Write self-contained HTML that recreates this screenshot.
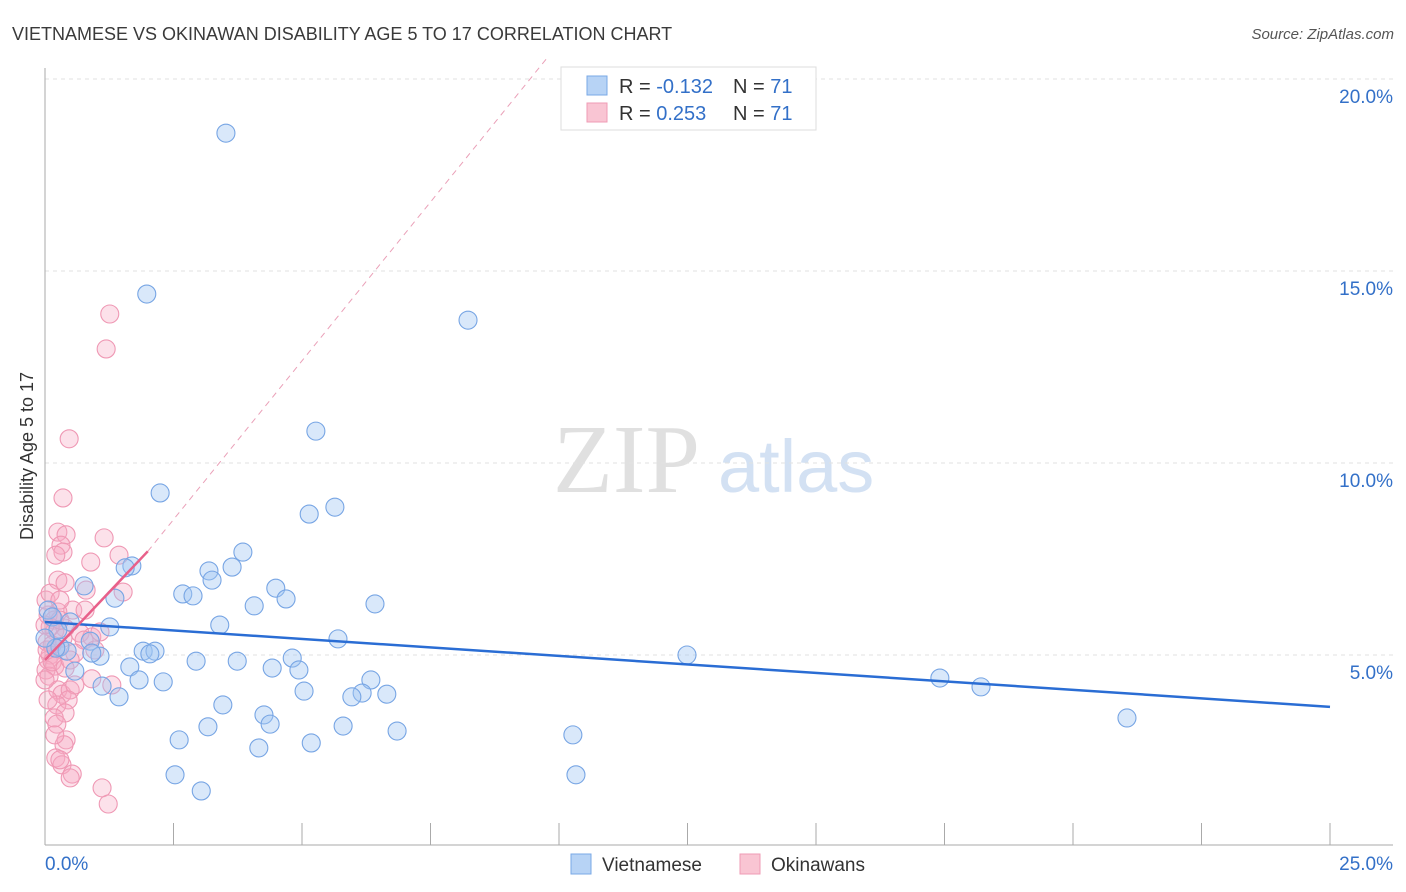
<!DOCTYPE html>
<html><head><meta charset="utf-8"><style>
body{margin:0;background:#fff;font-family:"Liberation Sans",sans-serif}
svg{display:block}
</style></head><body>
<svg id="chart" width="1406" height="892">
<text x="12" y="40" font-size="18" fill="#3a3a3a">VIETNAMESE VS OKINAWAN DISABILITY AGE 5 TO 17 CORRELATION CHART</text>
<text x="1394" y="39" font-size="15" fill="#555" font-style="italic" text-anchor="end">Source: ZipAtlas.com</text>
<text x="33" y="456" font-size="18" fill="#333" text-anchor="middle" transform="rotate(-90 33 456)">Disability Age 5 to 17</text>
<g>
<text x="553" y="492" font-family="Liberation Serif,serif" font-size="98" fill="#e0e0e0">ZIP</text>
<text x="718" y="492" font-size="74" fill="#d3e1f3">atlas</text>
</g>
<g id="grid"></g><g id="axes"></g><g id="trend"></g><g id="pts"></g>
<g>
<rect x="561" y="67" width="255" height="63" fill="#fff" stroke="#ddd"/>
<rect x="587" y="76" width="20" height="19" fill="#b7d3f5" stroke="#7aa8e6"/>
<rect x="587" y="103" width="20" height="19" fill="#f9c5d3" stroke="#ef9bb4"/>
<text x="619" y="93" font-size="20" fill="#333">R = <tspan fill="#3370c8">-0.132</tspan><tspan x="733">N = </tspan><tspan fill="#3370c8">71</tspan></text>
<text x="619" y="120" font-size="20" fill="#333">R = <tspan fill="#3370c8"> 0.253</tspan><tspan x="733">N = </tspan><tspan fill="#3370c8">71</tspan></text>
</g>
<g>
<rect x="571" y="854" width="20" height="20" fill="#b7d3f5" stroke="#7aa8e6"/>
<text x="602" y="871" font-size="19" fill="#333">Vietnamese</text>
<rect x="740" y="854" width="20" height="20" fill="#f9c5d3" stroke="#ef9bb4"/>
<text x="771" y="871" font-size="19" fill="#333">Okinawans</text>
</g>
</svg>
<script>
const yTicks=[5,10,15,20];
const yTickLabels=["5.0%","10.0%","15.0%","20.0%"];
const xTicks=[0,2.5,5,7.5,10,12.5,15,17.5,20,22.5,25];
const blueX=[3.52,1.98,8.23,5.27,2.24,5.14,5.64,3.85,1.69,1.56,3.19,3.64,3.25,0.76,4.49,2.68,2.88,4.69,1.36,4.07,6.42,3.40,1.26,0.49,5.70,0.88,0.29,0.43,0.21,1.91,2.14,2.04,1.07,0.91,2.94,3.74,4.81,1.65,4.42,4.94,0.58,1.83,2.30,6.34,1.11,1.44,5.04,6.17,6.65,5.97,3.46,4.26,4.38,3.17,5.80,6.85,2.61,5.18,4.16,10.27,2.53,10.33,3.04,12.49,17.41,18.21,21.05,0.06,0.14,0.25,0.0];
const blueY=[18.59,14.40,13.72,10.83,9.22,8.67,8.85,7.68,7.32,7.27,7.19,7.29,6.95,6.80,6.74,6.59,6.54,6.46,6.48,6.28,6.33,5.78,5.73,5.86,5.42,5.36,5.21,5.10,5.18,5.10,5.10,5.03,4.97,5.05,4.84,4.84,4.92,4.69,4.66,4.61,4.58,4.35,4.30,4.35,4.19,3.91,4.06,4.01,3.98,3.91,3.70,3.44,3.20,3.13,3.15,3.02,2.79,2.71,2.58,2.92,1.88,1.88,1.46,5.00,4.40,4.17,3.36,6.17,5.99,5.65,5.44];
const pinkX=[0.35,0.25,0.41,0.31,0.35,0.21,1.15,1.44,0.89,0.25,0.39,0.80,1.52,0.54,0.25,0.06,0.18,0.39,0.19,0.10,0.68,0.91,0.35,0.04,0.14,0.21,0.10,0.06,0.19,0.02,0.08,0.25,0.33,0.49,0.58,0.91,0.45,0.23,0.39,0.18,0.23,0.41,0.37,0.21,0.33,0.53,0.49,1.11,1.23,1.26,1.19,0.47,0.02,0.10,0.29,0.0,0.04,0.14,0.29,0.76,0.97,1.30,0.0,0.06,0.39,0.58,0.19,0.29,0.78,1.07,0.49];
const pinkY=[9.09,8.20,8.13,7.86,7.68,7.60,8.05,7.60,7.42,6.95,6.88,6.69,6.64,6.17,6.12,6.04,5.91,5.70,5.63,5.73,5.57,5.47,5.44,5.34,5.26,5.18,5.00,4.87,4.71,4.61,4.45,4.09,3.98,4.09,4.22,4.38,3.83,3.70,3.49,3.36,3.20,2.79,2.66,2.32,2.14,1.90,1.80,1.54,1.12,13.88,12.97,10.63,6.43,6.61,5.91,5.78,5.13,4.82,6.43,5.39,5.13,4.22,4.35,3.83,4.66,5.05,2.92,2.27,6.17,5.60,4.87];
const blueTrend=[5.86,3.65];
const pinkTrend=[4.87,7.7];
const pinkTrendEndX=2.0;
const pinkDashEnd=[9.8,20.6];

const NS="http://www.w3.org/2000/svg";
const X=v=>45+v/25*1285;
const Y=v=>847-v*38.4;
function mk(tag,attrs,parent){const e=document.createElementNS(NS,tag);for(const k in attrs)e.setAttribute(k,attrs[k]);document.getElementById(parent).appendChild(e);return e;}
yTicks.forEach((t,i)=>{
  const g=mk('line',{x1:45,x2:1393,y1:Y(t),y2:Y(t),stroke:'#e2e2e2','stroke-dasharray':'4,4'},'grid');
  
  
  const l=mk('text',{x:1393,y:Y(t)+24,'font-size':19,fill:'#3370c8','text-anchor':'end'},'axes');
  l.textContent=yTickLabels[i];
  
  
});
const ax=mk('line',{x1:45,x2:45,y1:68,y2:845,stroke:'#aaa'},'axes');


const bx=mk('line',{x1:45,x2:1393,y1:845,y2:845,stroke:'#aaa'},'axes');


xTicks.forEach(t=>{
  const tk=mk('line',{x1:X(t),x2:X(t),y1:823,y2:845,stroke:'#aaa'},'axes');
  
  
});
const xl0=mk('text',{x:45,y:870,'font-size':19,fill:'#3370c8'},'axes');xl0.textContent='0.0%';


const xl1=mk('text',{x:1393,y:870,'font-size':19,fill:'#3370c8','text-anchor':'end'},'axes');xl1.textContent='25.0%';


pinkX.forEach((v,i)=>{
  const c=mk('circle',{cx:X(v),cy:Y(pinkY[i]),r:9,fill:'rgba(247,170,195,0.35)',stroke:'#ef98b4','stroke-width':1.1},'pts');
  
  
});
blueX.forEach((v,i)=>{
  const c=mk('circle',{cx:X(v),cy:Y(blueY[i]),r:9,fill:'rgba(160,198,242,0.4)',stroke:'#77a5e4','stroke-width':1.1},'pts');
  
  
});
const pd=mk('line',{x1:X(pinkTrendEndX),y1:Y(pinkTrend[1]),x2:X(pinkDashEnd[0]),y2:Y(pinkDashEnd[1]),stroke:'#eaa0b8','stroke-dasharray':'6,5','stroke-width':1},'trend');


const bt=mk('line',{x1:X(0),y1:Y(blueTrend[0]),x2:X(25),y2:Y(blueTrend[1]),stroke:'#2a6dd4','stroke-width':2.5},'pts');


const pt=mk('line',{x1:X(0),y1:Y(pinkTrend[0]),x2:X(pinkTrendEndX),y2:Y(pinkTrend[1]),stroke:'#e8608a','stroke-width':2.5},'pts');


</script>
</body></html>
